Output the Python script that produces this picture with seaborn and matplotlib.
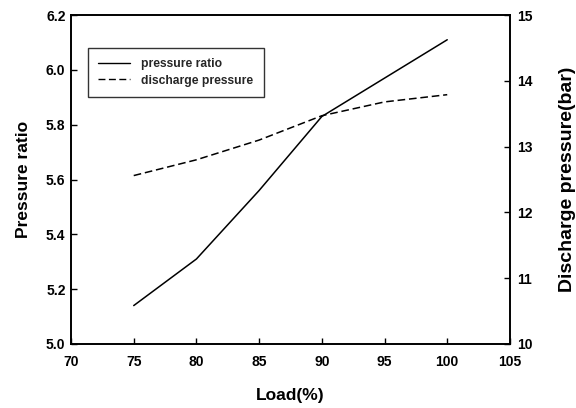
import matplotlib
matplotlib.use("Agg")
import matplotlib.pyplot as plt
import seaborn as sns
import pandas as pd
from matplotlib.lines import Line2D

# Load points and measured values
load = [75, 80, 85, 90, 95, 100]
pressure_ratio = [5.14, 5.31, 5.56, 5.83, 5.97, 6.11]
discharge_pressure = [12.56, 12.80, 13.10, 13.47, 13.68, 13.79]

x_ticks = [70, 75, 80, 85, 90, 95, 100, 105]
left_ticks = [5.0, 5.2, 5.4, 5.6, 5.8, 6.0, 6.2]
right_ticks = [10, 11, 12, 13, 14, 15]

df = pd.DataFrame({"load": load, "ratio": pressure_ratio, "discharge": discharge_pressure})

sns.set_theme(style="white")
plt.rcParams["font.family"] = ["Liberation Sans", "DejaVu Sans"]
plt.rcParams["font.weight"] = "bold"

dash = (0, (5, 2.5))

fig = plt.figure(figsize=(5.76, 4.08), dpi=100)
ax = fig.add_axes([0.1233, 0.157, 0.762, 0.806])
ax2 = ax.twinx()

sns.lineplot(data=df, x="load", y="ratio", ax=ax, color="black", linewidth=1.1)
sns.lineplot(data=df, x="load", y="discharge", ax=ax2, color="black", linewidth=1.1,
             linestyle=dash)

ax.set_xlim(70, 105)
ax.set_ylim(5.0, 6.2)
ax2.set_ylim(10, 15)
ax.set_xticks(x_ticks)
ax.set_yticks(left_ticks)
ax2.set_yticks(right_ticks)
ax.set_xticklabels([str(t) for t in x_ticks], fontsize=10, fontweight="bold")
ax.set_yticklabels([f"{t:.1f}" for t in left_ticks], fontsize=10, fontweight="bold")
ax2.set_yticklabels([str(t) for t in right_ticks], fontsize=10, fontweight="bold")

ax.set_xlabel("Load(%)", fontsize=12.5, fontweight="bold", labelpad=14, color="black")
ax.set_ylabel("Pressure ratio", fontsize=12.5, fontweight="bold", labelpad=11, color="black")
ax2.set_ylabel("Discharge pressure(bar)", fontsize=14, fontweight="bold", labelpad=19,
               color="black")

for a in (ax, ax2):
    for s in a.spines.values():
        s.set_color("black")
        s.set_linewidth(1.2)
ax.tick_params(axis="x", direction="in", length=4, width=1, colors="black", pad=8,
               bottom=True)
ax.tick_params(axis="y", direction="in", length=4, width=1, colors="black", pad=4,
               left=True)
ax2.tick_params(axis="y", direction="in", length=4, width=1, colors="black", pad=5,
                right=True)

handles = [Line2D([], [], color="black", linewidth=1.0),
           Line2D([], [], color="black", linewidth=1.0, linestyle=dash)]
leg = ax.legend(handles, ["pressure ratio", "discharge pressure"],
                loc="upper left", bbox_to_anchor=(0.0387, 0.75, 0.40, 0.15),
                mode="expand", borderaxespad=0,
                fontsize=8.75, frameon=True, fancybox=False, handlelength=2.6,
                borderpad=0.85, labelspacing=0.35, handletextpad=0.9)
leg.get_frame().set_edgecolor("black")
leg.get_frame().set_linewidth(1.0)
for t in leg.get_texts():
    t.set_fontweight("bold")

fig.savefig("out.png", dpi=100)
